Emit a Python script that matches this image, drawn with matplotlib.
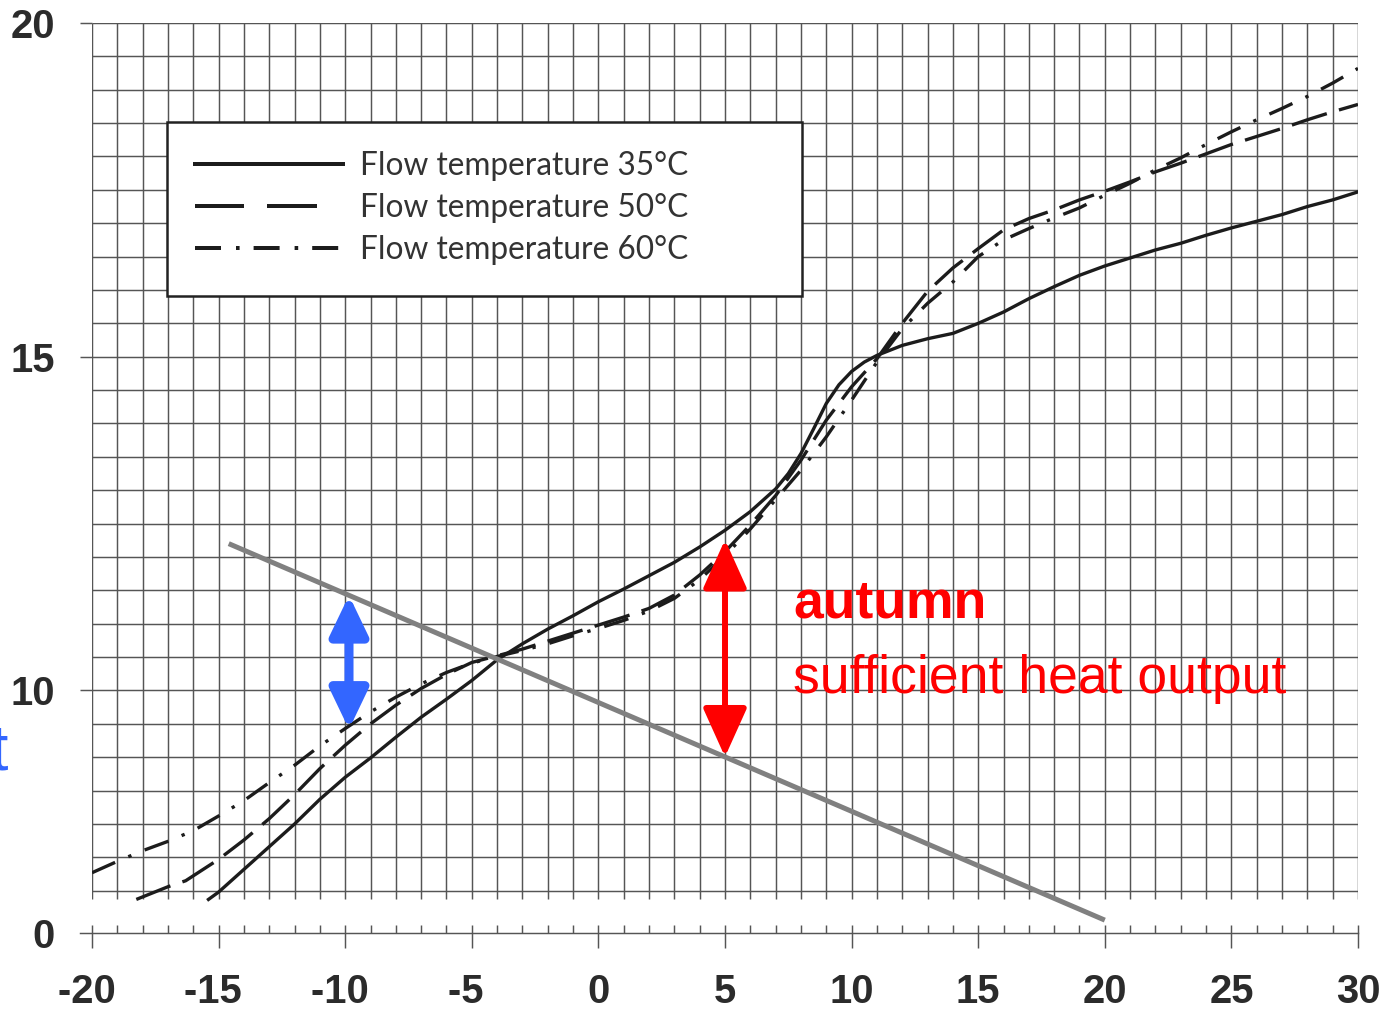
import numpy as np
import matplotlib
matplotlib.use("Agg")
import matplotlib.pyplot as plt
from matplotlib.lines import Line2D
from matplotlib.patches import FancyArrowPatch, Rectangle
from matplotlib.font_manager import FontProperties

plt.rcParams['font.family'] = ['Liberation Sans', 'DejaVu Sans']
plt.rcParams['axes.unicode_minus'] = False

# ---- curve data: outdoor temperature (x) vs. value (y) ----
t35_x = [-15.4, -15, -14, -13, -12, -11, -10, -9, -8, -7, -6, -5, -4, -3, -2, -1, 0, 1, 2, 3, 4,
         5, 6, 7, 7.5, 8, 8.5, 9, 9.5, 10, 10.5, 11, 12, 13, 14, 15, 16, 17, 18, 19, 20, 21, 22,
         23, 24, 25, 26, 27, 28, 29, 30]
t35_y = [6.87, 6.98, 7.32, 7.66, 8.0, 8.37, 8.7, 8.99, 9.3, 9.6, 9.87, 10.15, 10.46, 10.7, 10.92,
         11.12, 11.33, 11.52, 11.72, 11.92, 12.15, 12.4, 12.68, 13.02, 13.25, 13.55, 13.92, 14.3,
         14.58, 14.78, 14.92, 15.02, 15.17, 15.27, 15.35, 15.5, 15.67, 15.87, 16.05, 16.22, 16.36,
         16.48, 16.6, 16.7, 16.82, 16.93, 17.03, 17.13, 17.25, 17.35, 17.47]

t50_x = [-18.25, -17, -16.3, -15, -14, -13, -12, -11, -10, -9, -8, -7, -6, -5, -4, -3, -2, -1, 0,
         1, 2, 3, 4, 5, 6, 7, 8, 9, 10, 11, 12, 13, 14, 15, 16, 17, 18, 19, 20, 21, 22, 23, 24, 25,
         26, 27, 28, 29, 30]
t50_y = [6.87, 7.06, 7.15, 7.47, 7.76, 8.08, 8.44, 8.83, 9.18, 9.5, 9.78, 10.03, 10.24, 10.42,
         10.52, 10.62, 10.74, 10.86, 10.98, 11.1, 11.23, 11.43, 11.73, 12.08, 12.48, 12.92, 13.45,
         14.05, 14.55, 14.97, 15.5, 15.98, 16.33, 16.62, 16.9, 17.07, 17.2, 17.35, 17.48, 17.62,
         17.77, 17.9, 18.04, 18.18, 18.3, 18.42, 18.55, 18.67, 18.78]

t60_x = [-20, -19, -18, -17, -16, -15, -14, -13, -12, -11, -10, -9, -8, -7, -6, -5, -4, -3, -2, -1,
         0, 1, 2, 3, 4, 5, 6, 7, 8, 9, 10, 11, 12, 13, 14, 15, 16, 17, 18, 19, 20, 21, 22, 23, 24,
         25, 26, 27, 28, 29, 30]
t60_y = [7.27, 7.44, 7.6, 7.74, 7.9, 8.12, 8.35, 8.62, 8.88, 9.17, 9.43, 9.68, 9.9, 10.1, 10.27,
         10.41, 10.51, 10.6, 10.7, 10.82, 10.93, 11.05, 11.19, 11.38, 11.66, 12.02, 12.42, 12.86,
         13.3, 13.8, 14.35, 14.92, 15.42, 15.8, 16.12, 16.5, 16.75, 16.92, 17.08, 17.23, 17.42,
         17.6, 17.8, 17.98, 18.18, 18.37, 18.55, 18.72, 18.9, 19.1, 19.32]

series_labels = ["Flow temperature 35°C", "Flow temperature 50°C", "Flow temperature 60°C"]

# demand line
demand_x = [-14.6, 20.0]
demand_y = [12.2, 6.56]

# annotation arrows
autumn_x = 5.0
autumn_top = 12.26
winter_x = -9.85

x_major = [-20, -15, -10, -5, 0, 5, 10, 15, 20, 25, 30]
y_major = [10, 15, 20]

# ---- figure geometry ----
W, H, DPI = 1388, 1009, 100
fig = plt.figure(figsize=(W / DPI, H / DPI), dpi=DPI)
fig.patch.set_facecolor('white')

px_x = 1266 / 50.0        # pixels per x unit
px_y = 66.75              # pixels per y unit
y_low = 6.3
top_px = 23
bottom_px = top_px + (20 - y_low) * px_y

ax = fig.add_axes([92 / W, 1 - bottom_px / H, 1266 / W, (bottom_px - top_px) / H])
ax.set_xlim(-20, 30)
ax.set_ylim(y_low, 20)
for s in ax.spines.values():
    s.set_visible(False)

grid_col = '#555555'
ink = '#1c1c1c'
tick_font = dict(labelsize=28.8, labelcolor='#2b2b2b')

ax.hlines(np.arange(7, 20.01, 0.5), -20, 30, color=grid_col, lw=1.05, zorder=1)
ax.vlines(np.arange(-20, 31, 1), 6.87, 20, color=grid_col, lw=1.05, zorder=1)

ax.set_xticks([])
ax.set_yticks(y_major)
ax.set_yticklabels([str(v) for v in y_major], fontweight='bold')
ax.tick_params(axis='y', direction='out', length=8.64, width=1.05, color=grid_col,
               pad=18, **tick_font)

# curves
ax.plot(t35_x, t35_y, color=ink, lw=2.4, ls='-', zorder=3)
ax.plot(t50_x, t50_y, color=ink, lw=2.4, dashes=(11, 3.8), zorder=3)
ax.plot(t60_x, t60_y, color=ink, lw=2.4, dashes=(7.6, 4.3, 1, 4.3), zorder=3)

# demand line
ax.plot(demand_x, demand_y, color='#808080', lw=3.6, solid_capstyle='butt', zorder=4,
        clip_on=False)

# arrows
red_low = np.interp(autumn_x, demand_x, demand_y)
ax.add_patch(FancyArrowPatch((autumn_x, red_low), (autumn_x, autumn_top),
                             arrowstyle='<|-|>,head_length=30,head_width=13.5',
                             mutation_scale=1, color='#ff0000', lw=4.3,
                             shrinkA=0, shrinkB=0, zorder=6))
blue_low = np.interp(winter_x, t60_x, t60_y)
blue_top = np.interp(winter_x, demand_x, demand_y)
ax.add_patch(FancyArrowPatch((winter_x, blue_low - 0.05), (winter_x, blue_top),
                             arrowstyle='<|-|>,head_length=24,head_width=11.5',
                             mutation_scale=1, color='#3366ff', lw=6.5,
                             shrinkA=0, shrinkB=0, zorder=6))

# annotation text
ax.text(7.685, 11.10, 'autumn', color='#ff0000', fontsize=38.5, fontweight='bold',
        ha='left', va='baseline', zorder=7)
ax.text(7.685, 9.96, 'sufficient heat output', color='#ff0000', fontsize=38.5,
        ha='left', va='baseline', zorder=7)
ax.text(-23.32, 8.81, 'insufficient heat output', color='#3366ff', fontsize=46,
        ha='right', va='baseline', zorder=7, clip_on=False)

# legend
frame = Rectangle((167 / W, 1 - 296 / H), 635 / W, 174 / H, transform=fig.transFigure,
                  facecolor='white', edgecolor='#222222', lw=1.8, zorder=4.5, clip_on=False)
ax.add_patch(frame)
handles = [Line2D([], [], color=ink, lw=2.88, ls='-'),
           Line2D([], [], color=ink, lw=2.88, dashes=(12.25, 5.75, 12.5, 12)),
           Line2D([], [], color=ink, lw=2.88, dashes=(6.5, 3.75, 0.9, 3.5))]
leg_pt = 22.8
fs_px = leg_pt * DPI / 72
leg = ax.legend(handles, series_labels, loc='upper left',
                bbox_to_anchor=(195 / W, 1 - 151 / H), bbox_transform=fig.transFigure,
                frameon=False, borderpad=0, borderaxespad=0,
                handlelength=148 / fs_px, handletextpad=17 / fs_px, labelspacing=0.38,
                prop=FontProperties(family=['Lato', 'DejaVu Sans'], size=leg_pt),
                labelcolor='#333333')
leg.set_zorder(6)

# bottom axis row with the zero baseline
ax2 = fig.add_axes([80 / W, 1 - 933 / H, 1278 / W, 12 / H])
ax2.set_facecolor('none')
ax2.set_xlim(-20 - 12 / px_x, 30)
ax2.set_ylim(0, 1)
for side in ['top', 'left', 'right']:
    ax2.spines[side].set_visible(False)
ax2.spines['bottom'].set_color(grid_col)
ax2.spines['bottom'].set_linewidth(1.05)
ax2.xaxis.remove_overlapping_locs = False
ax2.set_xticks(x_major)
# negative labels keep their digits centred on the tick, with the sign hanging left
ax2.set_xticklabels([f"{v} " if v < 0 else str(v) for v in x_major], fontweight='bold')
ax2.set_xticks(np.arange(-20, 31, 1), minor=True)
ax2.tick_params(axis='x', which='major', direction='out', length=10.8, width=1.05,
                color=grid_col, pad=18, **tick_font)
ax2.tick_params(axis='x', which='minor', direction='in', length=5.76, width=1.05,
                color=grid_col)
ax2.set_yticks([0])
ax2.set_yticklabels(['0'], fontweight='bold')
ax2.tick_params(axis='y', length=0, pad=18, **tick_font)

fig.savefig('out.png', dpi=DPI, facecolor='white')
